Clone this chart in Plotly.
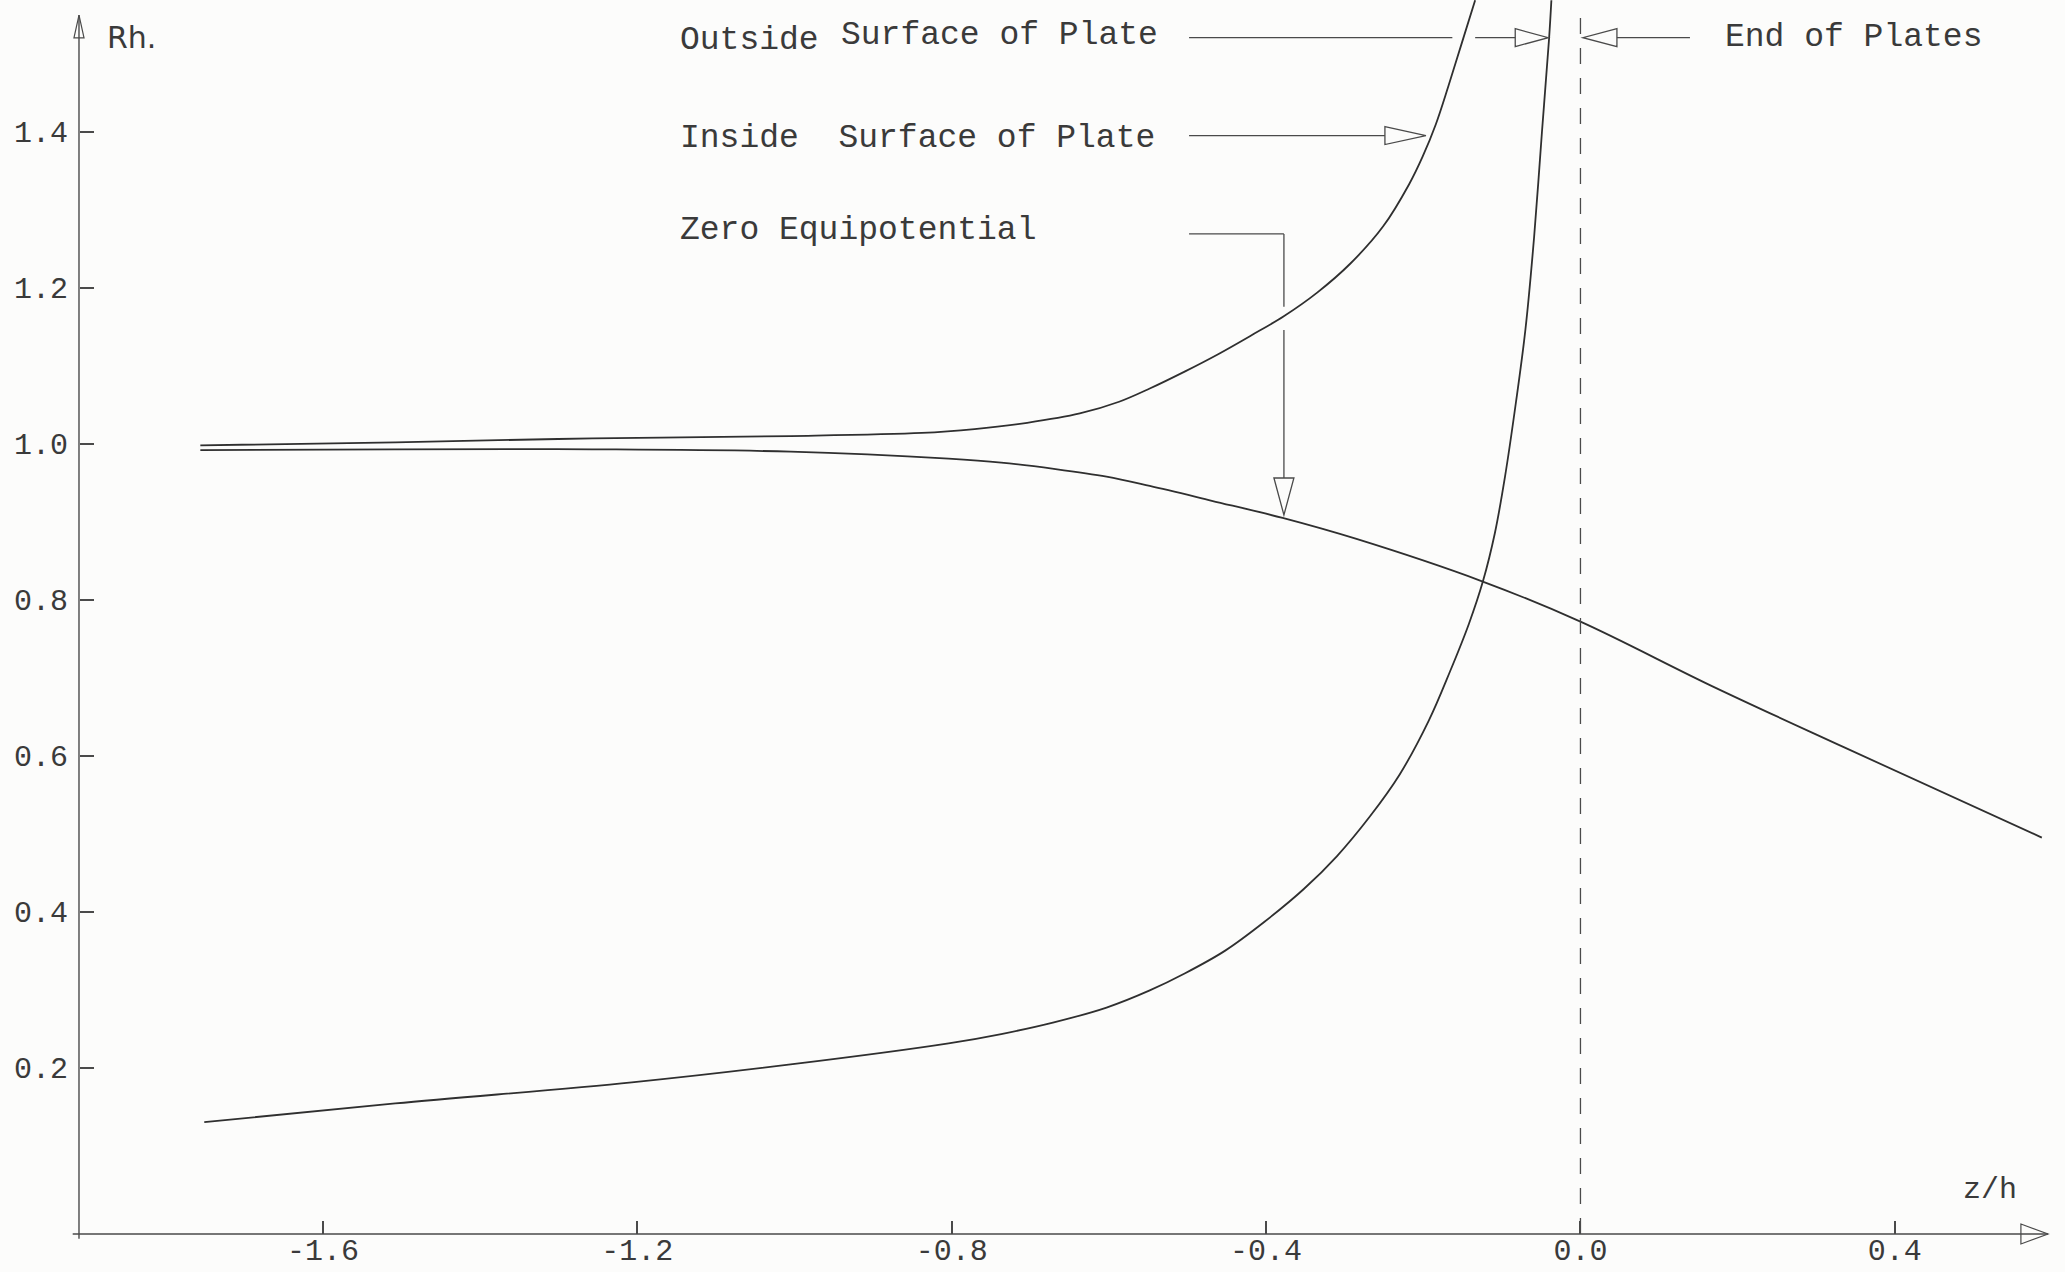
import plotly.graph_objects as go

# ---------------- data ----------------
# Inside surface of plate (upper curve, rises steeply near z/h ~ -0.15)
inside_z = [-1.756, -1.508, -1.257, -1.005, -0.838, -0.771, -0.704, -0.637, -0.587,
            -0.548, -0.503, -0.461, -0.419, -0.377, -0.335, -0.293, -0.251, -0.218,
            -0.201, -0.184, -0.168, -0.151, -0.134]
inside_rh = [0.998, 1.002, 1.007, 1.010, 1.014, 1.019, 1.027, 1.039, 1.054,
             1.071, 1.093, 1.115, 1.139, 1.164, 1.194, 1.231, 1.279, 1.333,
             1.368, 1.410, 1.459, 1.514, 1.569]

# Zero equipotential (descending curve)
zero_z = [-1.756, -1.508, -1.257, -1.005, -0.804, -0.737, -0.670, -0.603, -0.548,
          -0.469, -0.379, -0.285, -0.126, 0.0, 0.168, 0.335, 0.587]
zero_rh = [0.992, 0.993, 0.993, 0.990, 0.981, 0.976, 0.968, 0.958, 0.946,
           0.927, 0.905, 0.878, 0.824, 0.772, 0.689, 0.611, 0.495]

# Outside surface of plate (lower curve rising almost vertically near z/h ~ -0.04)
outside_z = [-1.751, -1.508, -1.207, -1.005, -0.804, -0.737, -0.670, -0.603, -0.548,
             -0.503, -0.452, -0.402, -0.352, -0.310, -0.268, -0.230, -0.193, -0.166,
             -0.142, -0.124, -0.109, -0.096, -0.082, -0.070, -0.059, -0.049, -0.040,
             -0.037]
outside_rh = [0.130, 0.154, 0.181, 0.204, 0.231, 0.243, 0.258, 0.277, 0.299,
              0.321, 0.350, 0.387, 0.429, 0.471, 0.522, 0.576, 0.645, 0.708,
              0.769, 0.824, 0.885, 0.958, 1.054, 1.147, 1.265, 1.400, 1.519,
              1.569]

x_tickvals = [-1.6, -1.2, -0.8, -0.4, 0.0, 0.4]
x_ticktext = ["-1.6", "-1.2", "-0.8", "-0.4", "0.0", "0.4"]
y_tickvals = [0.2, 0.4, 0.6, 0.8, 1.0, 1.2, 1.4]
y_ticktext = ["0.2", "0.4", "0.6", "0.8", "1.0", "1.2", "1.4"]

end_of_plates_z = 0.0

# ---------------- styling ----------------
W, H = 2065, 1272
X_RANGE = [-2.0109, 0.6165]
Y_RANGE = [-0.0622, 1.5693]
AX_Z0, AX_Z1 = -1.9104, 0.5949     # where axes are drawn (data units)
AX_R0, AX_R1 = -0.0135, 1.550

INK = "#2f2f2f"
AXC = "#4a4a4a"
FONT = "Liberation Mono"
TXT = "#3a3a3a"
BG = "#fcfcfb"

fig = go.Figure()

curve_style = dict(mode="lines", line=dict(color=INK, width=1.8, shape="spline", smoothing=1.0),
                   hoverinfo="skip", showlegend=False)
fig.add_trace(go.Scatter(x=inside_z, y=inside_rh, name="Inside Surface of Plate", **curve_style))
fig.add_trace(go.Scatter(x=zero_z, y=zero_rh, name="Zero Equipotential", **curve_style))
fig.add_trace(go.Scatter(x=outside_z, y=outside_rh, name="Outside Surface of Plate", **curve_style))

shapes = []


def seg(x0, y0, x1, y1, width=1.3, color=AXC, dash=None):
    ln = dict(color=color, width=width)
    if dash:
        ln["dash"] = dash
    shapes.append(dict(type="line", xref="x", yref="y", x0=x0, y0=y0, x1=x1, y1=y1,
                       line=ln, layer="above"))


def tri(points, width=1.3, color=AXC):
    path = "M " + " L ".join(f"{x},{y}" for x, y in points) + " Z"
    shapes.append(dict(type="path", xref="x", yref="y", path=path,
                       line=dict(color=color, width=width), fillcolor="rgba(0,0,0,0)",
                       layer="above"))


# axes (drawn as lines with open arrowheads)
seg(AX_Z0, AX_R0 - 0.006, AX_Z0, AX_R1, width=1.4)
tri([(AX_Z0 - 0.0064, 1.5206), (AX_Z0, AX_R1), (AX_Z0 + 0.0064, 1.5206)], width=1.2)
seg(AX_Z0 - 0.008, AX_R0, AX_Z1, AX_R0, width=1.4)
tri([(0.5604, AX_R0 + 0.0128), (AX_Z1, AX_R0), (0.5604, AX_R0 - 0.0128)], width=1.2)

# end of plates dashed line
seg(end_of_plates_z, AX_R0, end_of_plates_z, 1.554, width=1.3, dash="16px,14px")

# Outside surface leader
seg(-0.498, 1.521, -0.163, 1.521)
seg(-0.134, 1.521, -0.083, 1.521)
tri([(-0.083, 1.5325), (-0.041, 1.521), (-0.083, 1.5095)])
# End of plates leader
tri([(0.0464, 1.5325), (0.0031, 1.521), (0.0464, 1.5095)])
seg(0.0464, 1.521, 0.1393, 1.521)
# Inside surface leader
seg(-0.498, 1.3954, -0.2488, 1.3954)
tri([(-0.2488, 1.4069), (-0.1966, 1.3954), (-0.2488, 1.3839)])
# Zero equipotential leader
seg(-0.498, 1.2692, -0.3773, 1.2692)
seg(-0.3773, 1.2692, -0.3773, 1.1760)
seg(-0.3773, 1.1460, -0.3773, 0.9562)
tri([(-0.3900, 0.9562), (-0.3773, 0.9088), (-0.3646, 0.9562)])

annotations = []


def label(text, x, y, size=33, xanchor="left", family=FONT, color=TXT):
    annotations.append(dict(text=text, x=x, y=y, xref="x", yref="y", showarrow=False,
                            xanchor=xanchor, yanchor="middle",
                            font=dict(family=family, size=size, color=color)))


label("Outside", -1.148, 1.517)
label("Surface of Plate", -0.943, 1.524)
label("Inside\u00a0\u00a0Surface of Plate", -1.148, 1.3923)
label("Zero Equipotential", -1.148, 1.2737)
label("End of Plates", 0.1813, 1.521)
label("z/h", 0.5209, 0.043, size=30, xanchor="center")
label("Rh.", -1.8442, 1.5206, size=30, xanchor="center", family="DejaVu Sans")

fig.update_layout(
    width=W, height=H,
    margin=dict(l=0, r=0, t=0, b=0),
    paper_bgcolor=BG, plot_bgcolor=BG,
    shapes=shapes, annotations=annotations,
    xaxis=dict(range=X_RANGE, domain=[0, 1], anchor="free", position=38 / H,
               showgrid=False, zeroline=False, showline=False,
               tickmode="array", tickvals=x_tickvals, ticktext=x_ticktext,
               ticks="inside", ticklen=13, tickwidth=2, tickcolor=AXC,
               tickfont=dict(family=FONT, size=30, color=TXT), ticklabelstandoff=-5),
    yaxis=dict(range=Y_RANGE, domain=[0, 1], anchor="free", position=79 / W,
               showgrid=False, zeroline=False, showline=False,
               tickmode="array", tickvals=y_tickvals, ticktext=y_ticktext,
               ticks="inside", ticklen=14, tickwidth=2, tickcolor=AXC,
               tickfont=dict(family=FONT, size=30, color=TXT), ticklabelstandoff=11),
)

fig.write_html(
    "out.html",
    config={"displayModeBar": False},
    post_script="document.body.style.margin='0';document.body.style.overflow='hidden';",
)
